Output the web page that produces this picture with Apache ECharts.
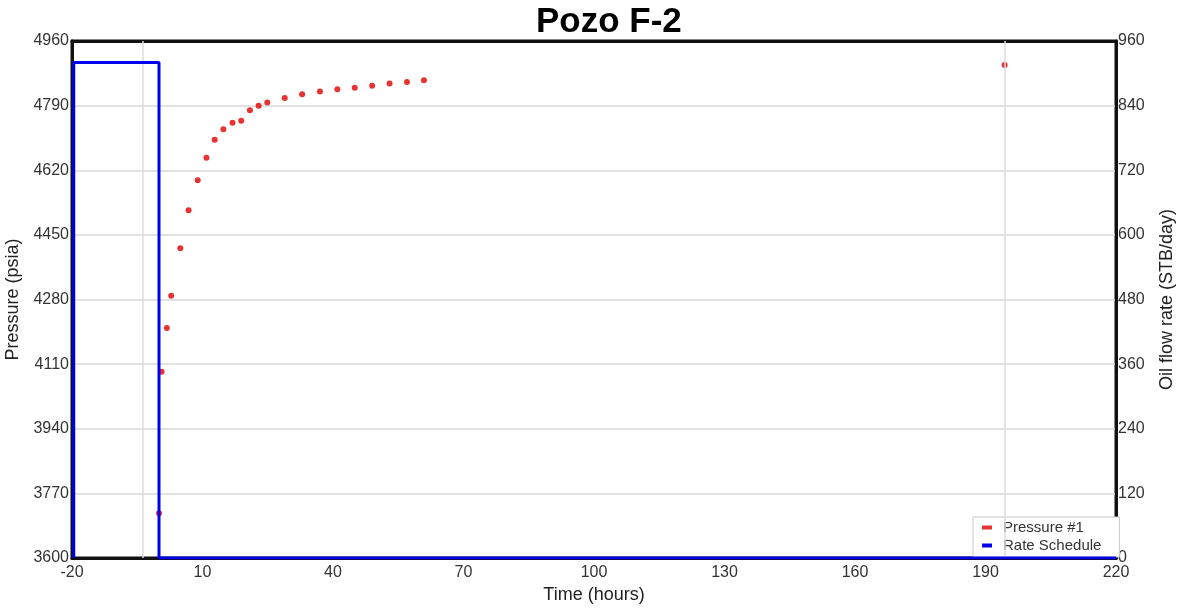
<!DOCTYPE html>
<html>
<head>
<meta charset="utf-8">
<script src="https://cdn.jsdelivr.net/npm/echarts@6/dist/echarts.min.js"></script>
<style>
html,body{margin:0;padding:0;background:#fff;}
#chart{width:1182px;height:609px;}
</style>
</head>
<body>
<div id="chart"></div>
<script>
// Data
const pressureTime = [0, 0.6, 1.8, 2.8, 4.9, 6.8, 8.9, 10.9, 12.8, 14.8, 16.9, 18.9, 20.9, 22.9, 24.9, 28.9, 32.9, 37, 41, 45, 49, 53, 57, 60.9, 194.4];
const pressureValues = [3718, 4090, 4205, 4290, 4415, 4515, 4594, 4653, 4700, 4728, 4745, 4750, 4778, 4790, 4798, 4810, 4820, 4827, 4833, 4837, 4842, 4848, 4852, 4857, 4897];
const rateTime = [-19.6, -19.6, 0, 0, 220];
const rateValues = [0, 920, 920, 0, 0];
const xTicks = [-20, 10, 40, 70, 100, 130, 160, 190, 220];
const pressureTicks = [3600, 3770, 3940, 4110, 4280, 4450, 4620, 4790, 4960];
const rateTicks = [0, 120, 240, 360, 480, 600, 720, 840, 960];
const refLines = [-3.7, 194.4];

const FONT = 'Liberation Sans';
const plain = v => String(v);
const pressureData = pressureTime.map((t, i) => [t, pressureValues[i]]);
const rateData = rateTime.map((t, i) => [t, rateValues[i]]);

const chart = echarts.init(document.getElementById('chart'));
chart.setOption({
  animation: false,
  backgroundColor: '#fff',
  title: {
    text: 'Pozo F-2',
    left: 531,
    top: 0,
    textStyle: {fontFamily: FONT, fontSize: 35, fontWeight: 'bold', color: '#000'}
  },
  legend: {
    orient: 'vertical',
    left: 973,
    top: 517,
    width: 145,
    padding: [3, 18, 4, 9],
    itemGap: 3,
    itemWidth: 10,
    itemHeight: 4,
    backgroundColor: '#fff',
    borderColor: '#c8c8c8',
    borderWidth: 1,
    borderRadius: 0,
    textStyle: {fontFamily: FONT, fontSize: 15, color: '#333', padding: [0, 0, 0, 6]},
    data: [
      {name: 'Pressure #1', icon: 'rect', itemStyle: {color: '#e00000'}},
      {name: 'Rate Schedule', icon: 'rect', itemStyle: {color: '#0000ee'}}
    ]
  },
  grid: {
    left: 72, right: 66, top: 41, bottom: 51,
    show: true,
    borderColor: '#111',
    borderWidth: 3,
    containLabel: false,
    outerBoundsMode: 'none'
  },
  xAxis: [
    {
      type: 'value',
      min: -20, max: 220,
      name: 'Time (hours)',
      nameLocation: 'middle',
      nameGap: 28,
      nameTextStyle: {fontFamily: FONT, fontSize: 18, color: '#222'},
      axisLine: {show: true, onZero: false, lineStyle: {color: '#111', width: 3}},
      axisTick: {show: false, customValues: xTicks},
      axisLabel: {customValues: xTicks, formatter: plain, fontFamily: FONT, fontSize: 16, color: '#333', margin: 7},
      splitLine: {show: false}
    },
    {
      type: 'value',
      position: 'top',
      min: -20, max: 220,
      axisLine: {show: true, onZero: false, lineStyle: {color: '#111', width: 3}},
      axisTick: {show: false},
      axisLabel: {show: false},
      splitLine: {show: false}
    }
  ],
  yAxis: [
    {
      type: 'value',
      min: 3600, max: 4960,
      name: 'Pressure (psia)',
      nameLocation: 'middle',
      nameGap: 42,
      nameTextStyle: {fontFamily: FONT, fontSize: 18, color: '#222'},
      axisLine: {show: true, onZero: false, lineStyle: {color: '#111', width: 3}},
      axisTick: {show: false, customValues: pressureTicks},
      axisLabel: {customValues: pressureTicks, formatter: plain, fontFamily: FONT, fontSize: 16, color: '#333', margin: 3},
      splitLine: {show: true, lineStyle: {color: '#d8d8d8', width: 1.5}}
    },
    {
      type: 'value',
      min: 0, max: 960, interval: 120,
      position: 'right',
      name: 'Oil flow rate (STB/day)',
      nameLocation: 'middle',
      nameGap: 42,
      nameRotate: 90,
      nameTextStyle: {fontFamily: FONT, fontSize: 18, color: '#222'},
      axisLine: {show: true, onZero: false, lineStyle: {color: '#111', width: 3}},
      axisTick: {show: false, customValues: rateTicks},
      axisLabel: {customValues: rateTicks, formatter: plain, fontFamily: FONT, fontSize: 16, color: '#333', margin: 2},
      splitLine: {show: false}
    }
  ],
  series: [
    {
      name: 'Rate Schedule',
      type: 'line',
      xAxisIndex: 0,
      yAxisIndex: 1,
      data: rateData,
      showSymbol: false,
      symbol: 'none',
      lineStyle: {color: '#0000ee', width: 3},
      itemStyle: {color: '#0000ee'},
      z: 5
    },
    {
      name: 'Pressure #1',
      type: 'scatter',
      xAxisIndex: 0,
      yAxisIndex: 0,
      data: pressureData,
      symbol: 'circle',
      symbolSize: 6,
      itemStyle: {color: '#e00000'},
      z: 4,
      markLine: {
        silent: true,
        symbol: 'none',
        label: {show: false},
        lineStyle: {color: '#dcdcdc', width: 1.5, type: 'solid'},
        data: refLines.map(v => ({xAxis: v}))
      }
    }
  ]
});
</script>
</body>
</html>
